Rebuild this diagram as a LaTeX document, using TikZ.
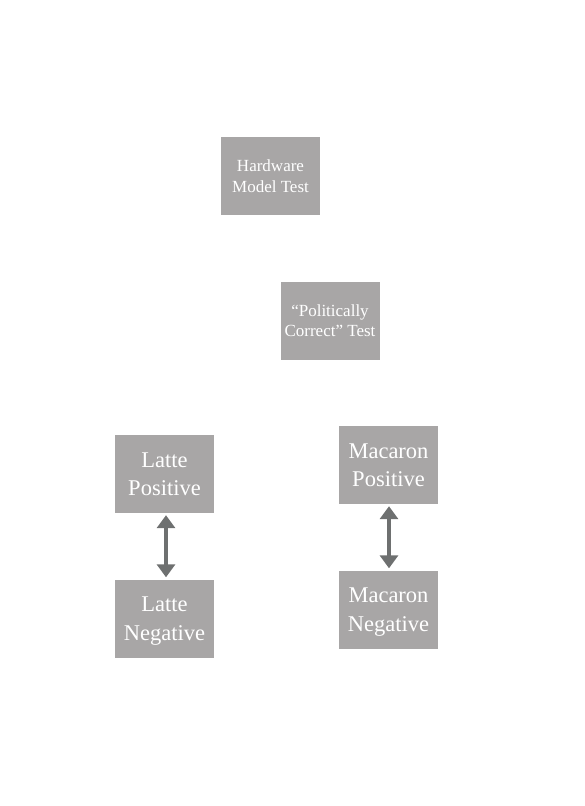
\documentclass[tikz,border=0pt]{standalone}
\usepackage{fontspec}
\setmainfont{Liberation Serif}
\usetikzlibrary{arrows.meta}
\definecolor{boxgray}{RGB}{168,166,166}
\definecolor{arrgray}{RGB}{110,112,112}
\begin{document}
\begin{tikzpicture}[x=1pt,y=-1pt,
  graybox/.style={fill=boxgray,draw=none,minimum width=99pt,minimum height=78pt,inner sep=0pt,align=center,text=white},
  smalltext/.style={font=\fontsize{17}{20.5}\selectfont,text depth=0pt},
  bigtext/.style={font=\fontsize{22.5}{28.5}\selectfont,text depth=-4pt},
  dblarrow/.style={draw=arrgray,line width=4.5pt,{Triangle[width=18pt,length=13pt]}-{Triangle[width=18pt,length=13pt]},shorten <=2pt,shorten >=2pt}]
\useasboundingbox (0,0) rectangle (584,806);
\node[graybox,smalltext] (hw) at (270.5,176) {Hardware\\Model Test};
\node[graybox,smalltext] (pc) at (330,320.5) {“Politically\\Correct” Test};
\node[graybox,bigtext] (lp) at (164.5,474) {Latte\\Positive};
\node[graybox,bigtext] (ln) at (164.5,618.5) {Latte\\Negative};
\node[graybox,bigtext] (mp) at (388.5,465) {Macaron\\Positive};
\node[graybox,bigtext] (mn) at (388.5,609.5) {Macaron\\Negative};
\draw[dblarrow] ([xshift=1.5pt]lp.south) -- ([xshift=1.5pt]ln.north);
\draw[dblarrow] ([xshift=0.5pt]mp.south) -- ([xshift=0.5pt]mn.north);
\end{tikzpicture}
\end{document}
